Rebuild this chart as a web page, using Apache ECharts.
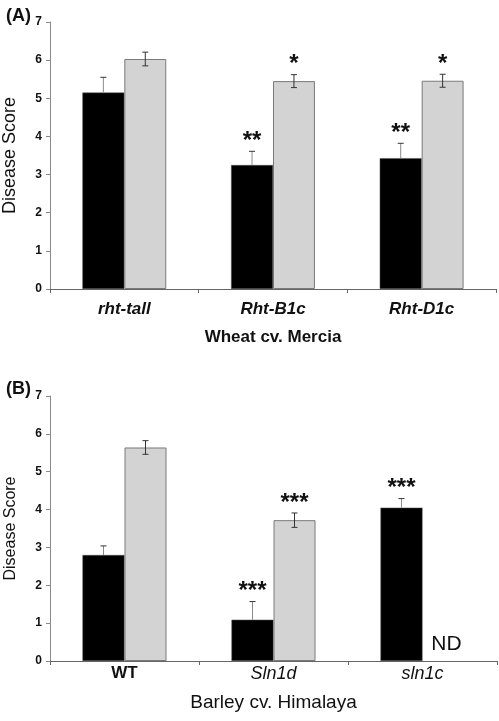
<!DOCTYPE html>
<html>
<head>
<meta charset="utf-8">
<script src="https://cdn.jsdelivr.net/npm/echarts@6/dist/echarts.min.js"></script>
<style>
html,body{margin:0;padding:0;background:#fff;}
#chart{width:499px;height:721px;}
</style>
</head>
<body>
<div id="chart"></div>
<script>
// ---- Panel A: Wheat cv. Mercia ----
const catsA = ['rht-tall', 'Rht-B1c', 'Rht-D1c'];
const blackA = [5.15, 3.25, 3.43];
const blackErrA = [0.40, 0.36, 0.39];
const grayA = [6.03, 5.45, 5.46];
const grayErrA = [0.18, 0.17, 0.17];
const starsBlackA = ['', '**', '**'];
const starsGrayA = ['', '*', '*'];

// ---- Panel B: Barley cv. Himalaya ----
const catsB = ['WT', 'Sln1d', 'sln1c'];
const blackB = [2.80, 1.09, 4.05];
const blackErrB = [0.24, 0.48, 0.24];
const grayB = [5.64, 3.72, null];
const grayErrB = [0.18, 0.19, null];
const starsBlackB = ['', '***', '***'];
const starsGrayB = ['', '***', ''];
const notesGrayB = ['', '', 'ND'];

const yTicks = [0, 1, 2, 3, 4, 5, 6, 7];
const axisNameA = 'Wheat cv. Mercia';
const axisNameB = 'Barley cv. Himalaya';
const yName = 'Disease Score';

const FONT = 'Liberation Sans';
const BAR_FRAC = 0.282;

function errSeries(gridIdx, vals, errs, stars, side, upOnly, lineColor, notes) {
  return {
    type: 'custom',
    xAxisIndex: gridIdx, yAxisIndex: gridIdx,
    silent: true, z: 10,
    data: vals.map((v, i) => [i, v == null ? 0 : v]),
    renderItem: function (params, api) {
      const i = params.dataIndex;
      const v = vals[i];
      const band = api.size([1, 0])[0];
      const bw = band * BAR_FRAC;
      const cx = api.coord([i, 0])[0] + side * bw / 2;
      const children = [];
      const cap = 3;
      if (v != null) {
        const e = errs[i];
        const yTop = api.coord([i, v + e])[1];
        const yBot = api.coord([i, upOnly ? v : v - e])[1];
        const st = { stroke: lineColor, lineWidth: 1 };
        children.push({ type: 'line', shape: { x1: cx, y1: yBot, x2: cx, y2: yTop }, style: st });
        children.push({ type: 'line', shape: { x1: cx - cap, y1: yTop, x2: cx + cap, y2: yTop }, style: { stroke: '#333', lineWidth: 1 } });
        if (!upOnly) {
          children.push({ type: 'line', shape: { x1: cx - cap, y1: yBot, x2: cx + cap, y2: yBot }, style: { stroke: '#333', lineWidth: 1 } });
        }
        if (stars[i]) {
          children.push({
            type: 'text',
            style: {
              x: cx, y: yTop + 2, text: stars[i], fill: '#111',
              font: 'bold 24px "' + FONT + '"', align: 'center', verticalAlign: 'bottom'
            }
          });
        }
      }
      if (notes && notes[i]) {
        const y0 = api.coord([i, 0])[1];
        children.push({
          type: 'text',
          style: {
            x: cx + 3, y: y0 - 6, text: notes[i], fill: '#111',
            font: '21px "' + FONT + '"', align: 'center', verticalAlign: 'bottom'
          }
        });
      }
      return { type: 'group', children: children };
    }
  };
}

function yAxisCfg(gridIdx, nameSize, nameGap) {
  return {
    type: 'value', gridIndex: gridIdx, min: 0, max: 7, interval: 1,
    splitLine: { show: false },
    axisLine: { show: true, lineStyle: { color: '#8a8a8a', width: 1 } },
    axisTick: { show: true, length: 4, lineStyle: { color: '#8a8a8a' } },
    axisLabel: {
      color: '#111', fontWeight: 'bold', fontSize: 12, fontFamily: FONT, margin: 8,
      formatter: v => (yTicks.indexOf(v) >= 0 ? String(v) : '')
    },
    name: yName, nameLocation: 'middle', nameRotate: 90, nameGap: nameGap,
    nameTextStyle: { fontSize: nameSize, fontFamily: FONT, color: '#111' }
  };
}

const option = {
  animation: false,
  backgroundColor: '#ffffff',
  title: [
    { text: '(A)', left: 1, top: 2, textStyle: { fontSize: 18, fontWeight: 'bold', fontFamily: FONT, color: '#111' } },
    { text: '(B)', left: 1, top: 375, textStyle: { fontSize: 18, fontWeight: 'bold', fontFamily: FONT, color: '#111' } }
  ],
  grid: [
    { left: 50, top: 22, width: 446, height: 267, containLabel: false, outerBoundsMode: 'none' },
    { left: 50, top: 396, width: 447, height: 265, containLabel: false, outerBoundsMode: 'none' }
  ],
  xAxis: [
    {
      type: 'category', gridIndex: 0, data: catsA,
      axisLine: { show: true, lineStyle: { color: '#666', width: 1 } },
      axisTick: { show: true, length: 4, lineStyle: { color: '#666' } },
      axisLabel: { color: '#111', fontSize: 17, fontWeight: 'bold', fontStyle: 'italic', fontFamily: FONT, margin: 12 },
      name: axisNameA, nameLocation: 'middle', nameGap: 40,
      nameTextStyle: { fontSize: 17, fontWeight: 'bold', fontFamily: FONT, color: '#111' }
    },
    {
      type: 'category', gridIndex: 1, data: catsB,
      axisLine: { show: true, lineStyle: { color: '#666', width: 1 } },
      axisTick: { show: true, length: 4, lineStyle: { color: '#666' } },
      axisLabel: {
        fontFamily: FONT, margin: 4,
        formatter: v => (v === 'WT' ? '{n|' + v + '}' : '{i|' + v + '}'),
        rich: {
          n: { fontSize: 17, fontWeight: 'bold', fontFamily: FONT, color: '#111' },
          i: { fontSize: 18, fontStyle: 'italic', fontFamily: FONT, color: '#111' }
        }
      },
      name: axisNameB, nameLocation: 'middle', nameGap: 32,
      nameTextStyle: { fontSize: 19, fontFamily: FONT, color: '#111' }
    }
  ],
  yAxis: [yAxisCfg(0, 18, 31), yAxisCfg(1, 16, 31)],
  series: [
    {
      type: 'bar', xAxisIndex: 0, yAxisIndex: 0, data: blackA, barWidth: (BAR_FRAC * 100) + '%', barGap: '0%',
      itemStyle: { color: '#000', borderColor: '#555', borderWidth: 0.5 }
    },
    {
      type: 'bar', xAxisIndex: 0, yAxisIndex: 0, data: grayA, barWidth: (BAR_FRAC * 100) + '%', barGap: '0%',
      itemStyle: { color: '#d3d3d3', borderColor: '#7a7a7a', borderWidth: 1 }
    },
    {
      type: 'bar', xAxisIndex: 1, yAxisIndex: 1, data: blackB, barWidth: (BAR_FRAC * 100) + '%', barGap: '0%',
      itemStyle: { color: '#000', borderColor: '#555', borderWidth: 0.5 }
    },
    {
      type: 'bar', xAxisIndex: 1, yAxisIndex: 1, data: grayB, barWidth: (BAR_FRAC * 100) + '%', barGap: '0%',
      itemStyle: { color: '#d3d3d3', borderColor: '#7a7a7a', borderWidth: 1 }
    },
    errSeries(0, blackA, blackErrA, starsBlackA, -1, true, '#8a8a8a', null),
    errSeries(0, grayA, grayErrA, starsGrayA, 1, false, '#333', null),
    errSeries(1, blackB, blackErrB, starsBlackB, -1, true, '#8a8a8a', null),
    errSeries(1, grayB, grayErrB, starsGrayB, 1, false, '#333', notesGrayB)
  ]
};

const chart = echarts.init(document.getElementById('chart'), null, { renderer: 'canvas' });
chart.setOption(option);
</script>
</body>
</html>
